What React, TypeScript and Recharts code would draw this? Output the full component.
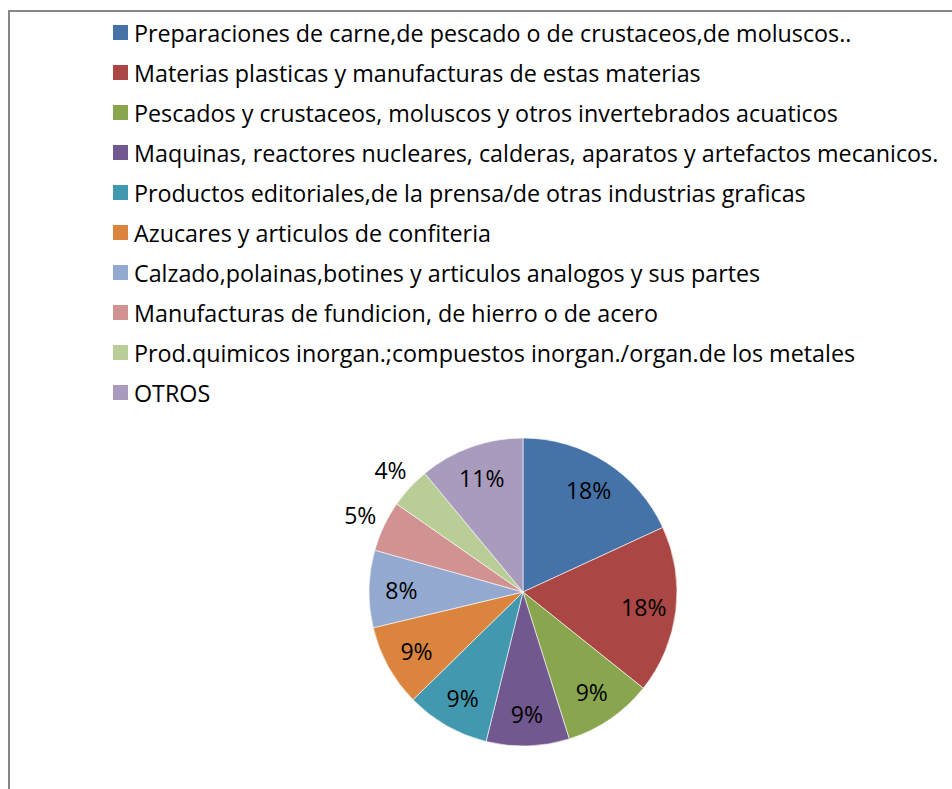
import { PieChart, Pie, Cell } from 'recharts'

const categories = [
  'Preparaciones de carne,de pescado o de crustaceos,de moluscos..',
  'Materias plasticas y manufacturas de estas materias',
  'Pescados y crustaceos, moluscos y otros invertebrados acuaticos',
  'Maquinas, reactores nucleares, calderas, aparatos y artefactos mecanicos.',
  'Productos editoriales,de la prensa/de otras industrias graficas',
  'Azucares y articulos de confiteria',
  'Calzado,polainas,botines y articulos analogos y sus partes',
  'Manufacturas de fundicion, de hierro o de acero',
  'Prod.quimicos inorgan.;compuestos inorgan./organ.de los metales',
  'OTROS',
]

const shares = [18.1, 17.6, 9.4, 8.7, 8.8, 8.6, 8.1, 5.3, 4.3, 11.0]

const colors = [
  '#4572A7', '#AA4643', '#89A54E', '#71588F', '#4198AF',
  '#DB843D', '#93A9CF', '#D19392', '#B9CD96', '#A99BBD',
]

const data = categories.map((name, i) => ({ name, value: shares[i] }))

const FONT = '"Open Sans", "Noto Sans", sans-serif'
const RADIAN = Math.PI / 180

function renderLabel(props: any) {
  const { cx, cy, midAngle, outerRadius, percent } = props
  // small slices get their label outside the pie
  const r = percent < 0.06 ? outerRadius + 26 : outerRadius * 0.79
  const x = cx + r * Math.cos(-midAngle * RADIAN)
  const y = cy + r * Math.sin(-midAngle * RADIAN)
  return (
    <text
      x={x}
      y={y}
      fill="#000"
      textAnchor="middle"
      dominantBaseline="central"
      fontFamily={FONT}
      fontSize={23}
    >
      {`${Math.round(percent * 100)}%`}
    </text>
  )
}

function LegendList() {
  return (
    <div
      style={{
        position: 'absolute',
        left: 113,
        top: 12.5,
        fontFamily: FONT,
        fontSize: 23.3,
        color: '#000',
      }}
    >
      {categories.map((name, i) => (
        <div
          key={name}
          style={{ display: 'flex', alignItems: 'center', height: 40, whiteSpace: 'nowrap' }}
        >
          <span
            style={{
              display: 'inline-block',
              width: 15,
              height: 15,
              background: colors[i],
              marginRight: 6,
              flexShrink: 0,
            }}
          />
          <span>{name}</span>
        </div>
      ))}
    </div>
  )
}

export default function App() {
  return (
    <div
      style={{
        position: 'absolute',
        left: 0,
        top: 0,
        width: 952,
        height: 789,
        overflow: 'hidden',
        background: '#fff',
      }}
    >
      <div
        style={{
          position: 'absolute',
          left: 8,
          top: 10,
          width: 1000,
          height: 900,
          border: '2px solid #878787',
        }}
      />
      <div style={{ position: 'absolute', left: 0, top: 0 }}>
        <PieChart width={952} height={789} margin={{ top: 0, right: 0, bottom: 0, left: 0 }}>
          <Pie
            data={data}
            dataKey="value"
            nameKey="name"
            cx={523}
            cy={592}
            outerRadius={154}
            startAngle={90}
            endAngle={-270}
            stroke="#ffffff"
            strokeWidth={0.6}
            label={renderLabel}
            labelLine={false}
            isAnimationActive={false}
          >
            {data.map((d, i) => (
              <Cell key={d.name} fill={colors[i]} />
            ))}
          </Pie>
        </PieChart>
      </div>
      <LegendList />
    </div>
  )
}
